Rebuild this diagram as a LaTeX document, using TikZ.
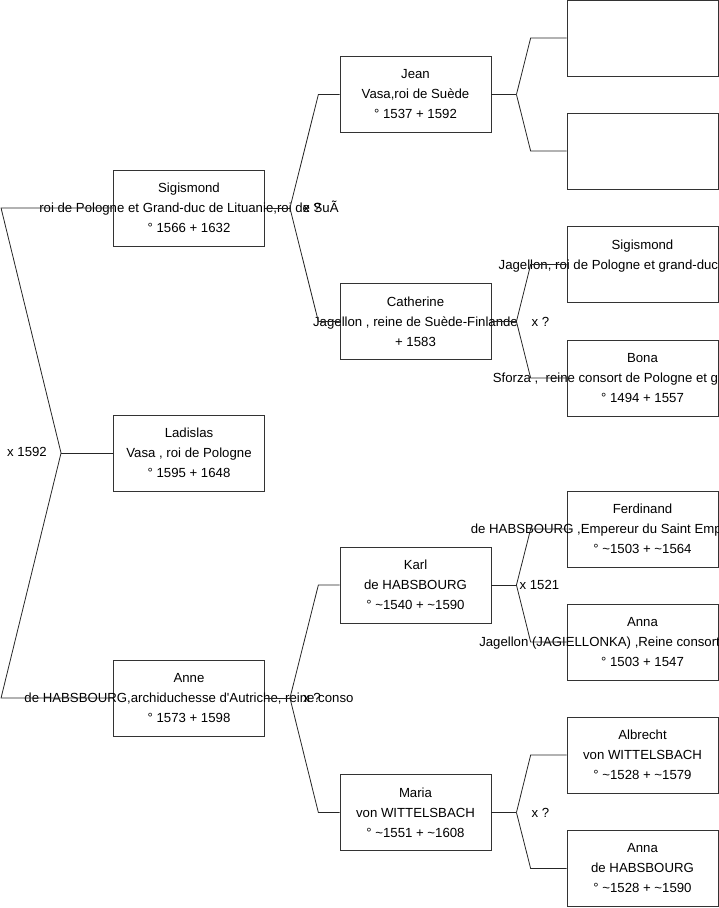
\documentclass[tikz,border=0pt]{standalone}
\usepackage{fontspec}
\setmainfont{Liberation Sans}
\usetikzlibrary{calc}
\newcommand\mkc[1]{\makebox[0pt]{#1}}
\begin{document}
\begin{tikzpicture}[x=1pt,y=-1pt,
  pbox/.style={draw=black!80, line width=0.9pt, fill=white, minimum width=151pt, minimum height=76pt,
    inner sep=0pt, align=center, font=\fontsize{13.2}{20}\selectfont},
  conn/.style={draw=black!85, line width=0.8pt},
  lbl/.style={font=\fontsize{13.2}{16}\selectfont, inner sep=0pt}]
\useasboundingbox (0,0) rectangle (719,908);
% column 1
\node[pbox] (sig) at (189,208) {\mkc{Sigismond}\\\mkc{roi de Pologne et Grand-duc de Lituanie,roi de SuÃ}\\\mkc{° 1566 + 1632}};
\node[pbox] (lad) at (189,453) {\mkc{Ladislas}\\\mkc{Vasa , roi de Pologne}\\\mkc{° 1595 + 1648}};
\node[pbox] (anne) at (189,698) {\mkc{Anne}\\\mkc{de HABSBOURG,archiduchesse d\textquotesingle Autriche, reine conso}\\\mkc{° 1573 + 1598}};
% column 2
\node[pbox] (jean) at (415.5,94.5) {\mkc{Jean}\\\mkc{Vasa,roi de Suède}\\\mkc{° 1537 + 1592}};
\node[pbox] (cath) at (415.5,321.5) {\mkc{Catherine}\\\mkc{Jagellon , reine de Suède-Finlande}\\\mkc{+ 1583}};
\node[pbox] (karl) at (415.5,585) {\mkc{Karl}\\\mkc{de HABSBOURG}\\\mkc{° \textasciitilde1540 + \textasciitilde1590}};
\node[pbox] (maria) at (415.5,812.5) {\mkc{Maria}\\\mkc{von WITTELSBACH}\\\mkc{° \textasciitilde1551 + \textasciitilde1608}};
% column 3
\node[pbox] (r1) at (642.5,38) {};
\node[pbox] (r2) at (642.5,151) {};
\node[pbox] (sigj) at (642.5,264.5) {\mkc{Sigismond}\\\mkc{Jagellon, roi de Pologne et grand-duc de Lituanie}\\\mkc{}};
\node[pbox] (bona) at (642.5,378) {\mkc{Bona}\\\mkc{Sforza ,\ \ reine consort de Pologne et grande-duche}\\\mkc{° 1494 + 1557}};
\node[pbox] (ferd) at (642.5,529) {\mkc{Ferdinand}\\\mkc{de HABSBOURG ,Empereur du Saint Empire romain germ}\\\mkc{° \textasciitilde1503 + \textasciitilde1564}};
\node[pbox] (annaj) at (642.5,642) {\mkc{Anna}\\\mkc{Jagellon (JAGIELLONKA) ,Reine consort de Bohême et}\\\mkc{° 1503 + 1547}};
\node[pbox] (albr) at (642.5,755) {\mkc{Albrecht}\\\mkc{von WITTELSBACH}\\\mkc{° \textasciitilde1528 + \textasciitilde1579}};
\node[pbox] (annah) at (642.5,868.5) {\mkc{Anna}\\\mkc{de HABSBOURG}\\\mkc{° \textasciitilde1528 + \textasciitilde1590}};
% connectors column 1
\coordinate (v1) at ($(lad.west)+(-52,0)$);
\draw[conn] (lad.west) -- (v1);
\draw[conn] (v1) -- ($(sig.west)+(-112,0)$) -- (sig.west);
\draw[conn] (v1) -- ($(anne.west)+(-112,0)$) -- (anne.west);
% connectors column 2
\coordinate (v2a) at ($(sig.east)+(25,0)$);
\draw[conn] (sig.east) -- (v2a);
\draw[conn] (v2a) -- ($(v2a |- jean.west)+(28.4,0)$) -- (jean.west);
\draw[conn] (v2a) -- ($(v2a |- cath.west)+(28.4,0)$) -- (cath.west);
\coordinate (v2b) at ($(anne.east)+(25,0)$);
\draw[conn] (anne.east) -- (v2b);
\draw[conn] (v2b) -- ($(v2b |- karl.west)+(28.4,0)$) -- (karl.west);
\draw[conn] (v2b) -- ($(v2b |- maria.west)+(28.4,0)$) -- (maria.west);
% connectors column 3
\foreach \p/\a/\b in {jean/r1/r2, cath/sigj/bona, karl/ferd/annaj, maria/albr/annah}{
  \coordinate (v3\p) at ($(\p.east)+(25,0)$);
  \draw[conn] (\p.east) -- (v3\p);
  \draw[conn] (v3\p) -- ($(v3\p |- \a.west)+(14.2,0)$) -- (\a.west);
  \draw[conn] (v3\p) -- ($(v3\p |- \b.west)+(14.2,0)$) -- (\b.west);
}
% marriage labels
\node[lbl] (m1) at (27,452) {x 1592};
\node[lbl] (m2) at ($(v2a)+(22,0)$) {x ?};
\node[lbl] (m3) at ($(v2b)+(22,0)$) {x ?};
\node[lbl] (m4) at ($(v3cath)+(24,0)$) {x ?};
\node[lbl] (m5) at ($(v3karl)+(23,0)$) {x 1521};
\node[lbl] (m6) at ($(v3maria)+(24,0)$) {x ?};
\end{tikzpicture}
\end{document}
